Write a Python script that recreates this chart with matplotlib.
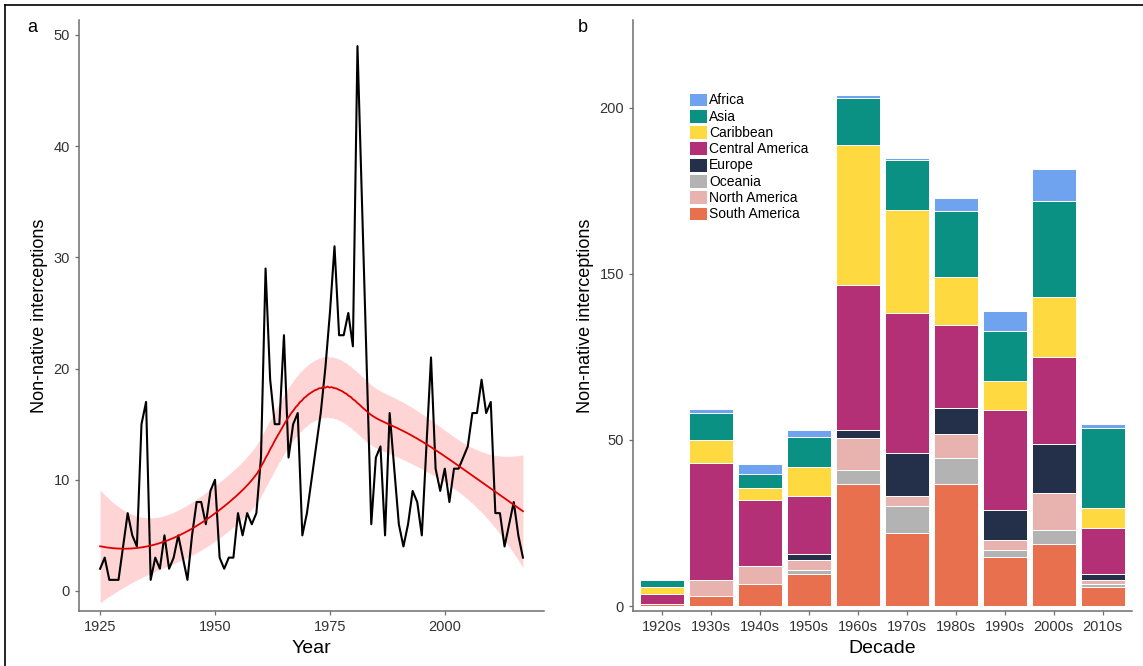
import numpy as np
import matplotlib
matplotlib.use("Agg")
import matplotlib.pyplot as plt
from matplotlib.patches import Patch
from matplotlib.lines import Line2D

plt.rcParams['font.family'] = ['Liberation Sans', 'DejaVu Sans']

# panel a: yearly interceptions (no records for 1982-1983)
years = list(range(1925, 1982)) + list(range(1984, 2018))
counts = [2, 3, 1, 1, 1, 4, 7, 5, 4, 15, 17, 1, 3, 2, 5, 2, 3, 5, 3, 1,
          5, 8, 8, 6, 9, 10, 3, 2, 3, 3, 7, 5, 7, 6, 7, 12, 29, 19, 15, 15,
          23, 12, 15, 16, 5, 7, 10, 13, 16, 20, 25, 31, 23, 23, 25, 22, 49, 6,
          12, 13, 5, 16, 11, 6, 4, 6, 9, 8, 5, 13, 21, 11, 9, 11, 8, 11, 11, 12,
          13, 16, 16, 19, 16, 17, 7, 7, 4, 6, 8, 5, 3]

# panel b: interceptions per decade and region
decades = ['1920s', '1930s', '1940s', '1950s', '1960s', '1970s', '1980s', '1990s', '2000s', '2010s']
regions = ['South America', 'Oceania', 'North America', 'Europe',
           'Central America', 'Caribbean', 'Asia', 'Africa']
south_america = [1, 4, 9, 13, 49, 29.5, 49, 19.5, 25, 7.5]
oceania = [0, 0, 0, 1.5, 5.5, 10.5, 10.5, 3, 5.5, 1.5]
north_america = [0, 6.5, 7, 4, 13, 4, 9.5, 4, 15, 1.5]
europe = [0, 0, 0, 2.5, 3, 17.5, 10.5, 12, 19.5, 2.5]
central_america = [4, 47, 26.5, 23, 58.5, 56, 33.5, 40, 35, 18.5]
caribbean = [2.5, 9, 5, 12, 56, 41.5, 19, 12, 24, 8]
asia = [3, 11, 5.5, 12, 19, 20, 26.5, 20, 38.5, 32]
africa = [0, 1.5, 4, 2.5, 1, 1, 5.5, 8, 13, 1.5]
region_colors = {'South America': '#e8704e', 'Oceania': '#b3b3b3',
                 'North America': '#e8b2ae', 'Europe': '#24304a',
                 'Central America': '#b33077', 'Caribbean': '#fed93f',
                 'Asia': '#0a9184', 'Africa': '#6fa3ef'}
legend_order = ['Africa', 'Asia', 'Caribbean', 'Central America', 'Europe',
                'Oceania', 'North America', 'South America']
ytick_pos = [0, 200 / 3, 400 / 3, 200]
ytick_labels = ['0', '50', '150', '200']


def loess(x, y, xs, span=0.75):
    # local quadratic fit with tricube weights, like R's loess default
    x = np.asarray(x, float)
    y = np.asarray(y, float)
    q = int(np.floor(len(x) * span))

    def rows(pts):
        out = []
        for x0 in pts:
            d = np.abs(x - x0)
            h = np.sort(d)[q - 1]
            w = np.clip(1 - (d / h) ** 3, 0, None) ** 3
            X = np.column_stack([np.ones_like(x), x - x0, (x - x0) ** 2])
            XtW = X.T * w
            out.append(np.linalg.solve(XtW @ X, XtW)[0])
        return np.array(out)

    L = rows(x)
    res = y - L @ y
    M = np.eye(len(x)) - L
    MM = M.T @ M
    d1 = np.trace(MM)
    d2 = np.trace(MM @ MM)
    s = np.sqrt(np.sum(res ** 2) / d1)
    Lg = rows(xs)
    fit = Lg @ y
    se = s * np.sqrt(np.sum(Lg ** 2, axis=1))
    df = d1 ** 2 / d2
    z = 1.959964
    t = z + (z ** 3 + z) / (4 * df) + (5 * z ** 5 + 16 * z ** 3 + 3 * z) / (96 * df ** 2)
    return fit, fit - t * se, fit + t * se


fig = plt.figure(figsize=(11.43, 6.66), dpi=100)
ax1 = fig.add_axes([0.0691, 0.0826, 0.4069, 0.8874])
ax2 = fig.add_axes([0.5538, 0.0826, 0.4366, 0.8874])

axis_grey = '#6e6e6e'
for ax in (ax1, ax2):
    for side in ('top', 'right'):
        ax.spines[side].set_visible(False)
    for side in ('left', 'bottom'):
        ax.spines[side].set_color(axis_grey)
        ax.spines[side].set_linewidth(1.1)
    ax.tick_params(colors=axis_grey, labelcolor='#333333', labelsize=10.5,
                   length=3, width=0.9)

# panel a
xs = np.linspace(years[0], years[-1], 200)
fit, lo, hi = loess(years, counts, xs)
ax1.fill_between(xs, lo, hi, color='#ffd4d4', lw=0)
ax1.plot(years, counts, color='black', lw=1.5)
ax1.plot(xs, fit, color='#dd0000', lw=1.3)
ax1.set_xlim(1925 - 4.6, 2017 + 4.6)
ax1.set_ylim(-1.8, 51.35)
ax1.set_xticks([1925, 1950, 1975, 2000])
ax1.set_yticks([0, 10, 20, 30, 40, 50])
ax1.set_xlabel('Year', fontsize=14)
ax1.set_ylabel('Non-native interceptions', fontsize=13)

# panel b
series = [south_america, oceania, north_america, europe,
          central_america, caribbean, asia, africa]
pos = np.arange(len(decades))
bottom = np.zeros(len(decades))
for name, vals in zip(regions, series):
    ax2.bar(pos, vals, width=0.9, bottom=bottom, color=region_colors[name],
            edgecolor='white', linewidth=0.7)
    bottom += np.array(vals)
ax2.set_xlim(-0.6, len(decades) - 0.4)
ax2.set_ylim(-2, 235.3)
ax2.set_xticks(pos)
ax2.set_xticklabels(decades)
ax2.set_yticks(ytick_pos)
ax2.set_yticklabels(ytick_labels)
ax2.set_xlabel('Decade', fontsize=14)
ax2.set_ylabel('Non-native interceptions', fontsize=13)

handles = [Patch(facecolor=region_colors[n], edgecolor='white', linewidth=0.7)
           for n in legend_order]
ax2.legend(handles, legend_order, loc='upper left',
           bbox_to_anchor=(0.112, 0.877), frameon=False, fontsize=10,
           handlelength=1.3, handleheight=1.15, labelspacing=0.12,
           handletextpad=0.15, borderpad=0, borderaxespad=0)

fig.text(32 / 1143, 1 - 27 / 666, 'a', fontsize=13, ha='center', va='center')
fig.text(583 / 1143, 1 - 27 / 666, 'b', fontsize=13, ha='center', va='center')

# frame lines along the top and left edge
fig.add_artist(Line2D([5 / 1143, 1], [1 - 5 / 666, 1 - 5 / 666], color='black', lw=1.2))
fig.add_artist(Line2D([5 / 1143, 5 / 1143], [0, 1 - 5 / 666], color='black', lw=1.2))

fig.savefig('out.png', dpi=100)
